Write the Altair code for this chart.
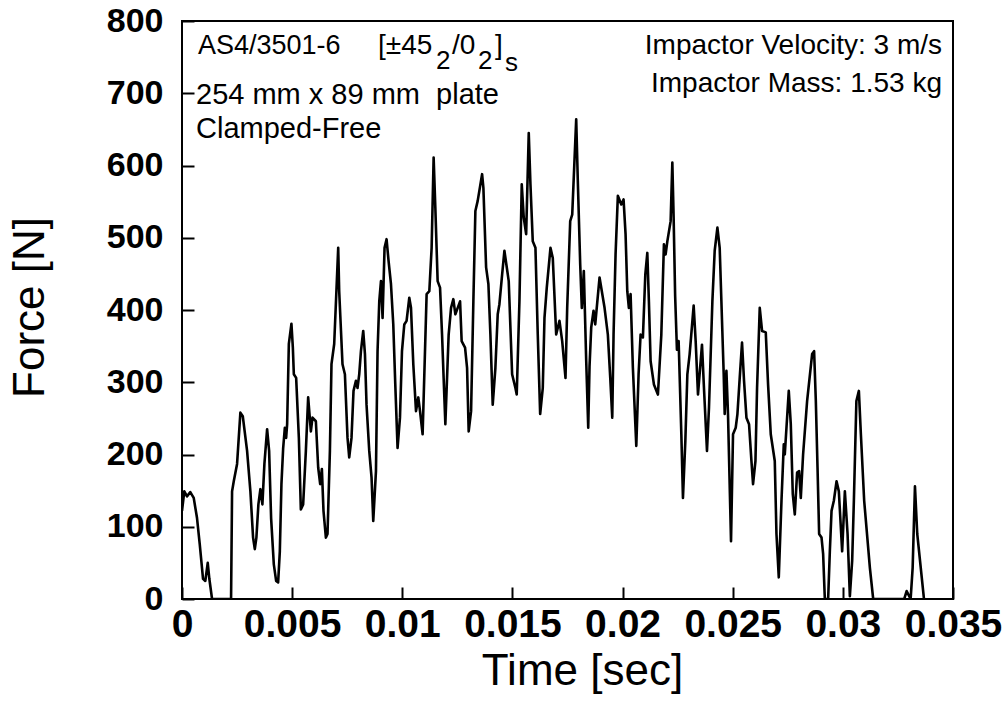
import altair as alt
import pandas as pd

time_s = [
    0.0, 0.000105, 0.000227, 0.000377, 0.000532, 0.000682, 0.000805, 0.000955, 0.001059, 0.001168,
    0.001241, 0.001364, 0.002227, 0.002273, 0.00235, 0.0025, 0.00265, 0.002759, 0.002955, 0.003105,
    0.003227, 0.003305, 0.003377, 0.003468, 0.003559, 0.00365, 0.003741, 0.003864, 0.003955, 0.004045,
    0.004168, 0.004273, 0.004364, 0.004441, 0.004514, 0.004591, 0.004668, 0.004727, 0.004773, 0.00485,
    0.004968, 0.005032, 0.005077, 0.005182, 0.005305, 0.005395, 0.0055, 0.005623, 0.005727, 0.00585,
    0.005923, 0.006077, 0.006182, 0.006273, 0.00635, 0.006423, 0.006532, 0.006605, 0.006714, 0.006786,
    0.006909, 0.007091, 0.007136, 0.007286, 0.007395, 0.007514, 0.007591, 0.007695, 0.007786, 0.007895,
    0.007968, 0.008045, 0.008123, 0.008227, 0.008305, 0.008377, 0.0085, 0.008605, 0.008682, 0.008805,
    0.008877, 0.008955, 0.009032, 0.009105, 0.009195, 0.009286, 0.009377, 0.009486, 0.009591, 0.009682,
    0.009786, 0.009895, 0.009986, 0.010091, 0.010195, 0.010318, 0.010395, 0.0105, 0.010623, 0.010727,
    0.010805, 0.010923, 0.011105, 0.011227, 0.011332, 0.011423, 0.0115, 0.011605, 0.011714, 0.011805,
    0.011877, 0.011955, 0.012032, 0.012105, 0.012214, 0.012318, 0.012409, 0.012623, 0.012695, 0.01285,
    0.012941, 0.013014, 0.013123, 0.013227, 0.013318, 0.013423, 0.013623, 0.013682, 0.013805, 0.013909,
    0.014, 0.014105, 0.014227, 0.014332, 0.014409, 0.014532, 0.014636, 0.014832, 0.014986, 0.015136,
    0.015195, 0.015318, 0.015423, 0.015514, 0.015623, 0.015741, 0.015818, 0.015923, 0.016045, 0.01615,
    0.016259, 0.016377, 0.016455, 0.016559, 0.016727, 0.016832, 0.016986, 0.017136, 0.017259, 0.017409,
    0.017486, 0.017623, 0.017714, 0.017895, 0.017968, 0.018077, 0.01815, 0.018241, 0.01835, 0.018441,
    0.0185, 0.018577, 0.018682, 0.018759, 0.018955, 0.019182, 0.019332, 0.019441, 0.019532, 0.019591,
    0.019682, 0.019786, 0.019941, 0.020045, 0.020136, 0.020214, 0.020286, 0.020364, 0.020468, 0.020623,
    0.020727, 0.020818, 0.020923, 0.021032, 0.021123, 0.021195, 0.021273, 0.021423, 0.021605, 0.021759,
    0.021877, 0.021955, 0.022032, 0.022182, 0.022259, 0.022318, 0.022386, 0.022468, 0.022545, 0.022668,
    0.022741, 0.02285, 0.022941, 0.023045, 0.023227, 0.023318, 0.023423, 0.023605, 0.023695, 0.023832,
    0.023923, 0.024077, 0.024182, 0.024305, 0.024409, 0.024486, 0.024591, 0.024636, 0.024714, 0.024786,
    0.024923, 0.025014, 0.025136, 0.025214, 0.025318, 0.025423, 0.025514, 0.025623, 0.025741, 0.02585,
    0.025923, 0.026032, 0.026105, 0.026227, 0.026332, 0.0265, 0.026605, 0.026727, 0.026909, 0.026986,
    0.027091, 0.027214, 0.027318, 0.027364, 0.027545, 0.027636, 0.027727, 0.027818, 0.027923, 0.028014,
    0.028091, 0.028195, 0.028377, 0.028605, 0.028695, 0.028773, 0.02885, 0.028923, 0.029032, 0.029105,
    0.029182, 0.029332, 0.029409, 0.029486, 0.029591, 0.029714, 0.029818, 0.029968, 0.030091, 0.030214,
    0.030318, 0.030423, 0.0305, 0.030614, 0.030727, 0.030818, 0.030968, 0.031227, 0.031377, 0.032786,
    0.032895, 0.033077, 0.033168, 0.033273, 0.033377, 0.033682,
]

force_n = [
    122, 149, 142, 148, 140, 112, 76, 28, 25, 50,
    28, 0, 0, 149, 163, 187, 258, 253, 205, 149,
    85, 69, 85, 131, 152, 131, 187, 235, 205, 112,
    48, 25, 23, 66, 159, 208, 237, 223, 242, 353,
    381, 348, 311, 306, 223, 124, 131, 205, 279, 232,
    251, 246, 182, 159, 180, 122, 85, 90, 205, 325,
    353, 486, 426, 325, 311, 223, 196, 223, 288, 302,
    292, 311, 343, 371, 339, 269, 205, 168, 108, 177,
    343, 412, 440, 389, 486, 498, 468, 436, 380, 297,
    209, 251, 343, 380, 385, 417, 403, 325, 260, 279,
    260, 228, 422, 426, 486, 611, 542, 440, 431, 366,
    306, 242, 306, 366, 403, 415, 394, 412, 357, 348,
    320, 232, 260, 412, 537, 551, 588, 569, 459, 436,
    366, 269, 320, 394, 408, 449, 482, 440, 311, 292,
    283, 412, 574, 528, 505, 645, 574, 495, 486, 366,
    256, 292, 389, 431, 486, 472, 366, 385, 357, 306,
    403, 523, 532, 664, 579, 463, 403, 454, 329, 237,
    322, 376, 399, 380, 445, 403, 366, 306, 251, 366,
    477, 558, 546, 553, 505, 426, 403, 422, 320, 212,
    311, 366, 362, 449, 479, 412, 329, 297, 283, 366,
    491, 477, 495, 523, 604, 528, 420, 345, 357, 228,
    140, 219, 311, 339, 406, 357, 283, 352, 292, 205,
    265, 412, 482, 514, 486, 412, 311, 256, 316, 256,
    80, 228, 237, 256, 306, 355, 302, 251, 242, 191,
    159, 191, 292, 403, 371, 369, 297, 228, 191, 90,
    30, 136, 214, 200, 288, 242, 145, 117, 175, 177,
    140, 200, 274, 339, 343, 274, 182, 90, 85, 62,
    0, 0, 66, 122, 136, 163, 149, 66, 149, 90,
    4, 53, 136, 274, 288, 228, 136, 43, 0, 0,
    11, 0, 43, 156, 90, 0,
]

x_ticks = [0, 0.005, 0.01, 0.015, 0.02, 0.025, 0.03, 0.035]
y_ticks = [0, 100, 200, 300, 400, 500, 600, 700, 800]

left_lines = ["AS4/3501-6", "254 mm x 89 mm\u00a0 plate", "Clamped-Free"]
layup_parts = ["[\u00b145", "2", "/0", "2", "]", "s"]
right_lines = ["Impactor Velocity: 3 m/s", "Impactor Mass: 1.53 kg"]

FONT = "Liberation Sans"
W, H = 771, 578
TICK = 12

df = pd.DataFrame({"t": time_s, "F": force_n})
xscale = alt.Scale(domain=[0, 0.035], nice=False, zero=False)
yscale = alt.Scale(domain=[0, 800], nice=False)

line = alt.Chart(df).mark_line(
    color="black", strokeWidth=2.6, strokeJoin="round", clip=True
).encode(
    x=alt.X("t:Q", scale=xscale, axis=alt.Axis(
        values=x_ticks, format=".3~f", title="Time [sec]",
        domain=False, offset=-TICK, tickSize=TICK, labelPadding=6,
        labelFontSize=39, labelFontWeight="bold",
        labelOverlap=False, labelFlush=False,
        titleFontSize=44, titleFontWeight="normal",
        titleX=400, titleY=84, titleBaseline="middle")),
    y=alt.Y("F:Q", scale=yscale, axis=alt.Axis(
        values=y_ticks, format="d", title="Force [N]",
        domain=False, offset=-TICK, tickSize=TICK, labelPadding=19,
        labelFontSize=34, labelFontWeight="bold",
        labelOverlap=False, labelFlush=False,
        titleFontSize=44, titleFontWeight="normal",
        titleX=-164, titleY=286, titleBaseline="middle")),
)


def label(txt, x, y, size=27, align="left"):
    return alt.Chart(pd.DataFrame({"k": [0]})).mark_text(
        text=txt, font=FONT, fontSize=size, align=align, baseline="alphabetic",
        color="black"
    ).encode(x=alt.value(x), y=alt.value(y))


texts = [
    label(left_lines[0], 16, 33),
    label(left_lines[1], 14, 83, size=29),
    label(left_lines[2], 14, 117, size=29),
    label(layup_parts[0], 196, 33, size=28),
    label(layup_parts[1], 254, 48, size=26),
    label(layup_parts[2], 270, 33, size=28),
    label(layup_parts[3], 296, 48, size=26),
    label(layup_parts[4], 313, 33, size=28),
    label(layup_parts[5], 323, 50, size=26),
    label(right_lines[0], 760, 33, size=28, align="right"),
    label(right_lines[1], 760, 71, size=28, align="right"),
]

chart = alt.layer(line, *texts).properties(
    width=W, height=H,
    autosize=alt.AutoSizeParams(type="none"),
    padding={"left": 182, "top": 21, "right": 55, "bottom": 120},
    background="white",
).configure_view(
    stroke="black", strokeWidth=2
).configure_axis(
    grid=False, tickColor="black", tickWidth=2,
    labelColor="black", titleColor="black", labelFont=FONT, titleFont=FONT,
)

chart.save("out.html", embed_options={"renderer": "svg", "actions": False})
